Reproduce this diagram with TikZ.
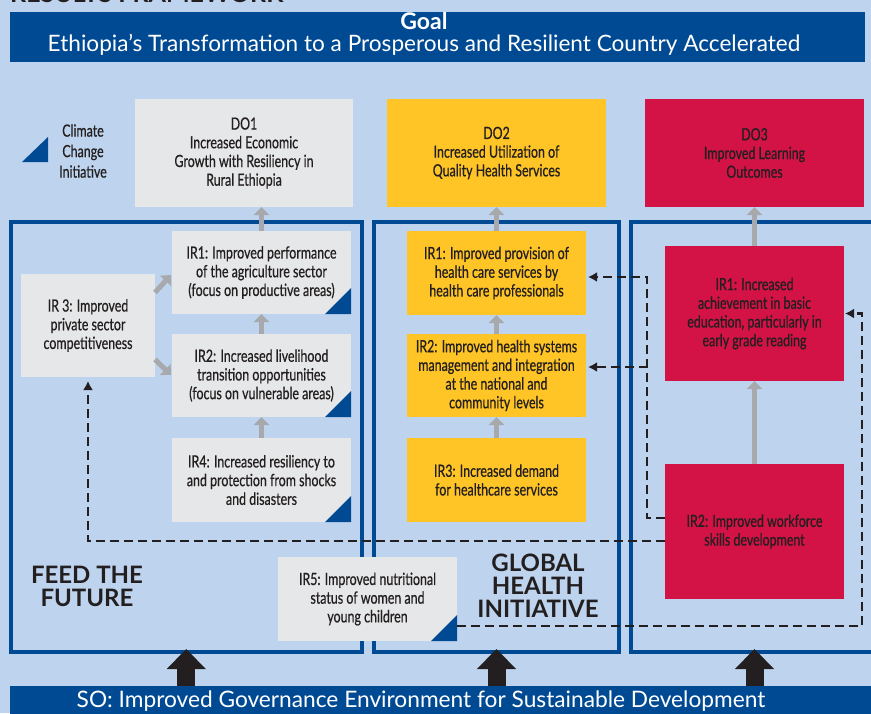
\documentclass[tikz,border=0pt]{standalone}
\usepackage{fontspec}
\setmainfont{Lato}
\newfontfamily\condfont[FakeStretch=0.74,FakeBold=0.6]{Lato}
\usetikzlibrary{arrows.meta,calc}
\definecolor{bgblue}{RGB}{190,212,238}
\definecolor{goalblue}{RGB}{0,74,147}
\definecolor{boxgrey}{RGB}{230,231,232}
\definecolor{boxyellow}{RGB}{255,196,37}
\definecolor{boxred}{RGB}{211,19,69}
\definecolor{arrgrey}{RGB}{167,169,172}
\definecolor{txt}{RGB}{35,31,32}
\begin{document}
\begin{tikzpicture}[x=1pt,y=-1pt,
  box/.style={rectangle, inner sep=0pt, outer sep=0pt, align=center, text=txt,
    font=\condfont\fontsize{16.8}{18.7}\selectfont},
  greybox/.style={box, fill=boxgrey},
  yellowbox/.style={box, fill=boxyellow},
  redbox/.style={box, fill=boxred},
  panel/.style={rectangle, draw=goalblue, line width=4pt, inner sep=0pt, outer sep=0pt},
  grayarr/.style={draw=arrgrey, line width=5pt, -{Triangle[width=15pt,length=8pt]}},
  blockarr/.style={draw=txt, line width=18pt, -{Triangle[width=38pt,length=20pt]}},
  dasharr/.style={draw=txt, line width=2.2pt, dash pattern=on 9pt off 5pt, -{Latex[length=9pt,width=10pt]}},
  bigtitle/.style={text=txt, align=center, font=\bfseries\fontsize{24}{23}\selectfont},
  corner/.style={fill=goalblue}
]
\useasboundingbox (0,0) rectangle (871,713);
\clip (0,0) rectangle (871,713);
\fill[bgblue] (0,0) rectangle (871,713);

% top (cut off) heading
\node[anchor=base west, inner sep=0pt, text=txt, font=\bfseries\fontsize{25}{25}\selectfont] (rf) at (10,2) {RESULTS FRAMEWORK};

% goal bar
\node[fill=goalblue, minimum width=855pt, minimum height=50pt, inner sep=0pt] (goal) at (437.5,37) {};
\node[text=white, font=\bfseries\fontsize{23}{23}\selectfont] (goaltitle) at (424,21) {Goal};
\node[text=white, font=\fontsize{22.6}{23}\selectfont] (goaltext) at (424,45) {Ethiopia’s Transformation to a Prosperous and Resilient Country Accelerated};

% SO bar
\fill[goalblue] (10,686) rectangle (880,720);
\coordinate (sotop) at (0,686);
\node[text=white, font=\fontsize{22.7}{23}\selectfont] (so) at (421,701) {SO: Improved Governance Environment for Sustainable Development};

% panels
\node[panel, minimum width=351.5pt, minimum height=430pt] (p1) at (186.25,437) {};
\node[panel, minimum width=245pt, minimum height=430pt] (p2) at (496.5,437) {};
\node[panel, minimum width=269pt, minimum height=430pt] (p3) at (765.5,437) {};

% legend
\fill[corner] (48,137) -- (48,162) -- (22,162) -- cycle;
\node[box, font=\condfont\fontsize{16.8}{20.5}\selectfont] (legend) at (83,151) {Climate\\Change\\Initiative};

% DO boxes
\node[greybox, minimum width=218pt, minimum height=108pt] (do1) at (244,153) {DO1\\Increased Economic\\Growth with Resiliency in\\Rural Ethiopia};
\node[yellowbox, minimum width=219pt, minimum height=108pt] (do2) at (496.5,153) {DO2\\Increased Utilization of\\Quality Health Services};
\node[redbox, minimum width=219pt, minimum height=108pt] (do3) at (754.5,153) {DO3\\Improved Learning\\Outcomes};

% Feed the Future
\node[greybox, minimum width=179pt, minimum height=83pt] (a1) at (261.5,272.5) {IR1: Improved performance\\of the agriculture sector\\(focus on productive areas)};
\node[greybox, minimum width=134pt, minimum height=103pt] (a3) at (88,325.5) {IR 3: Improved\\private sector\\competitiveness};
\node[greybox, minimum width=179pt, minimum height=83pt] (a2) at (261.5,375.5) {IR2: Increased livelihood\\transition opportunities\\(focus on vulnerable areas)};
\node[greybox, minimum width=179pt, minimum height=84pt] (a4) at (261.5,480) {IR4: Increased resiliency to\\and protection from shocks\\and disasters};
\node[greybox, minimum width=179pt, minimum height=84pt] (a5) at (367.5,599) {IR5: Improved nutritional\\status of women and\\young children};

% Global Health
\node[yellowbox, minimum width=179pt, minimum height=84pt] (b1) at (496.5,273) {IR1: Improved provision of\\health care services by\\health care professionals};
\node[yellowbox, minimum width=179pt, minimum height=83pt] (b2) at (496.5,375.5) {IR2: Improved health systems\\management and integration\\at the national and\\community levels};
\node[yellowbox, minimum width=179pt, minimum height=84pt] (b3) at (496.5,480) {IR3: Increased demand\\for healthcare services};

% Education
\node[redbox, minimum width=179pt, minimum height=135pt] (c1) at (754.5,313.5) {IR1: Increased\\achievement in basic\\education, particularly in\\early grade reading};
\node[redbox, minimum width=179pt, minimum height=135pt] (c2) at (754.5,531.5) {IR2: Improved workforce\\skills development};

% climate corners
\foreach \n in {a1,a2,a4,a5}{
  \fill[corner] (\n.south east) -- ++(0,-26) -- ++(-26,26) -- cycle;
}

% panel titles
\node[bigtitle] (ftf) at (87,586) {FEED THE\\FUTURE};
\node[bigtitle] (ghi) at (538,586) {GLOBAL\\HEALTH\\INITIATIVE};

% grey arrows
\draw[grayarr] (a1.north) -- (a1.north |- do1.south);
\draw[grayarr] (a2.north) -- (a1.south);
\draw[grayarr] (a4.north) -- (a2.south);
\draw[grayarr] ([yshift=33pt]a3.east) -- ([yshift=39pt,xshift=-1pt]a1.south west);
\draw[grayarr] ([yshift=-34pt]a3.east) -- ([yshift=-41pt,xshift=-1pt]a2.north west);
\draw[grayarr] (b1.north) -- (do2.south);
\draw[grayarr] (b2.north) -- (b1.south);
\draw[grayarr] (b3.north) -- (b2.south);
\draw[grayarr] (c1.north) -- (do3.south);
\draw[grayarr] (c2.north) -- (c1.south);

% dashed links
\draw[dasharr] ([yshift=13.5pt]c2.west) -- ++(-18,0) |- ([yshift=-4pt,xshift=2pt]b1.east);
\draw[dasharr] ([yshift=13.5pt]c2.west) -- ++(-18,0) |- ([yshift=8.5pt,xshift=2pt]b2.east);
\draw[dasharr, shorten >=4pt] ([yshift=-9.5pt]c2.west) -| (a3.south);
\draw[dasharr] ([yshift=-27pt]a5.east) -| ([xshift=18pt]c1.east) -- ([xshift=1pt]c1.east);

% block arrows from SO
\draw[blockarr, shorten >=-3pt] (p1.south |- sotop) -- (p1.south);
\draw[blockarr, shorten >=-3pt] (p2.south |- sotop) -- (p2.south);
\draw[blockarr, shorten >=-3pt] (c2.south |- sotop) -- (c2.south |- p3.south);
\end{tikzpicture}
\end{document}
